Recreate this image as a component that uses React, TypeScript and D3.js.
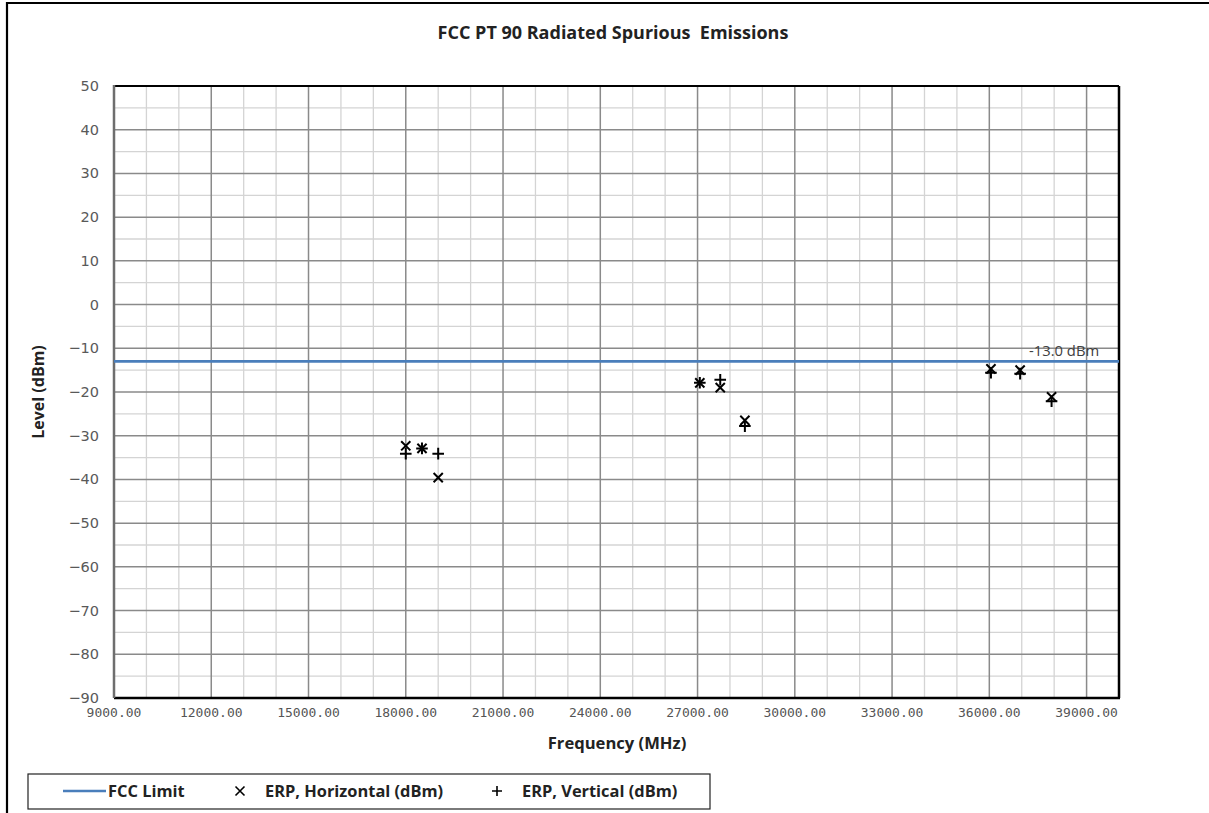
import React from "react";
import * as d3 from "d3";

const title = "FCC PT 90 Radiated Spurious  Emissions";
const xTicks = [9000, 12000, 15000, 18000, 21000, 24000, 27000, 30000, 33000, 36000, 39000];
const yTicks = [50, 40, 30, 20, 10, 0, -10, -20, -30, -40, -50, -60, -70, -80, -90];
const limitLevel = -13;
const limitLabel = "-13.0 dBm";

const horizFreq = [18000, 18500, 19000, 27070, 27700, 28460, 36050, 36950, 37920];
const horizLevel = [-32.3, -32.9, -39.6, -17.9, -19.0, -26.5, -14.7, -15.0, -21.1];
const vertFreq = [18000, 18500, 19000, 27070, 27700, 28460, 36050, 36950, 37920];
const vertLevel = [-34.1, -32.9, -34.1, -17.9, -17.2, -27.8, -15.6, -15.8, -22.1];

const seriesNames = ["FCC Limit", "ERP, Horizontal (dBm)", "ERP, Vertical (dBm)"];

export default function App() {
  const W = 1209, H = 813;
  const L = 114, R = 1119, T = 86, B = 698;
  const x = d3.scaleLinear().domain([9000, 40000]).range([L, R]);
  const y = d3.scaleLinear().domain([-90, 50]).range([B, T]);

  const xMinor = d3.range(10000, 40000, 1000).filter((v) => v % 3000 !== 0);
  const xMajor = d3.range(12000, 40000, 3000);
  const yMinor = d3.range(-85, 50, 10);
  const yMajor = d3.range(-80, 50, 10);
  const fmtX = d3.format(".2f");
  const fmtY = d3.format("d");

  const limitLine = d3.line<number>().x((d) => x(d)).y(() => y(limitLevel));

  const cat = "'Open Sans', Lato, sans-serif";
  const xs = 4.6;
  const ps = 5.8;
  const ly = 791;

  return (
    <svg width={W} height={H} style={{ position: "absolute", left: 0, top: 0, background: "#fff" }}>
      <path d={`M7,${H + 5}L7,3L${W + 5},3`} fill="none" stroke="#000" strokeWidth={2.2} />
      <text x={613} y={39} textAnchor="middle" fontFamily={cat} fontWeight="bold" fontSize={18} fill="#222" style={{ whiteSpace: "pre" }}>
        {title}
      </text>

      {xMinor.map((v) => (
        <line key={"xm" + v} x1={x(v)} x2={x(v)} y1={T} y2={B} stroke="#d4d4d4" strokeWidth={1.3} />
      ))}
      {yMinor.map((v) => (
        <line key={"ym" + v} x1={L} x2={R} y1={y(v)} y2={y(v)} stroke="#d4d4d4" strokeWidth={1.3} />
      ))}
      {xMajor.map((v) => (
        <line key={"xM" + v} x1={x(v)} x2={x(v)} y1={T} y2={B} stroke="#8a8a8a" strokeWidth={1.5} />
      ))}
      {yMajor.map((v) => (
        <line key={"yM" + v} x1={L} x2={R} y1={y(v)} y2={y(v)} stroke="#8a8a8a" strokeWidth={1.5} />
      ))}

      <line x1={L} x2={R} y1={T} y2={T} stroke="#000" strokeWidth={2.2} />
      <line x1={R} x2={R} y1={T} y2={B} stroke="#000" strokeWidth={2.5} />
      <line x1={L} x2={R + 1} y1={B} y2={B} stroke="#000" strokeWidth={2.5} />
      <line x1={L} x2={L} y1={T - 1} y2={B} stroke="#6e6e6e" strokeWidth={2.5} />

      <path d={limitLine([9000, 40000]) || ""} stroke="#4a7ebb" strokeWidth={2.6} fill="none" />
      <text x={1029} y={356} fontFamily={cat} fontSize={14.8} fill="#404040">{limitLabel}</text>

      {horizFreq.map((f, i) => {
        const cx = x(f), cy = y(horizLevel[i]);
        return (
          <path key={"h" + i} d={`M${cx - xs},${cy - xs}L${cx + xs},${cy + xs}M${cx - xs},${cy + xs}L${cx + xs},${cy - xs}`} stroke="#000" strokeWidth={2} fill="none" />
        );
      })}
      {vertFreq.map((f, i) => {
        const cx = x(f), cy = y(vertLevel[i]);
        return (
          <path key={"v" + i} d={`M${cx - ps},${cy}L${cx + ps},${cy}M${cx},${cy - ps}L${cx},${cy + ps}`} stroke="#000" strokeWidth={2} fill="none" />
        );
      })}

      {yTicks.map((v) => (
        <text key={"yt" + v} x={99} y={y(v) + 5} textAnchor="end" fontFamily="'DejaVu Sans', Verdana, sans-serif" fontSize={14.5} fill="#595959">
          {fmtY(v)}
        </text>
      ))}
      {xTicks.map((v) => (
        <text key={"xt" + v} x={x(v)} y={717} textAnchor="middle" fontFamily="'DejaVu Sans Mono', monospace" fontSize={13} fill="#555">
          {fmtX(v)}
        </text>
      ))}

      <text x={617} y={749} textAnchor="middle" fontFamily={cat} fontWeight="bold" fontSize={16.6} fill="#222">Frequency (MHz)</text>
      <text transform={`translate(44,${(T + B) / 2}) rotate(-90)`} textAnchor="middle" fontFamily={cat} fontWeight="bold" fontSize={16} fill="#222">Level (dBm)</text>

      <rect x={28} y={774} width={682} height={35} fill="#fff" stroke="#222" strokeWidth={1.2} />
      <line x1={63} x2={106} y1={ly} y2={ly} stroke="#4a7ebb" strokeWidth={2.6} />
      <text x={108} y={ly + 5.5} fontFamily={cat} fontWeight="bold" fontSize={16.4} fill="#222">{seriesNames[0]}</text>
      <path d={`M${240 - 4.5},${ly - 4.5}L${240 + 4.5},${ly + 4.5}M${240 - 4.5},${ly + 4.5}L${240 + 4.5},${ly - 4.5}`} stroke="#000" strokeWidth={1.6} fill="none" />
      <text x={265} y={ly + 5.5} fontFamily={cat} fontWeight="bold" fontSize={16.4} fill="#222">{seriesNames[1]}</text>
      <path d={`M${497 - 5},${ly}L${497 + 5},${ly}M497,${ly - 5}L497,${ly + 5}`} stroke="#000" strokeWidth={1.6} fill="none" />
      <text x={522} y={ly + 5.5} fontFamily={cat} fontWeight="bold" fontSize={16.4} fill="#222">{seriesNames[2]}</text>
    </svg>
  );
}
